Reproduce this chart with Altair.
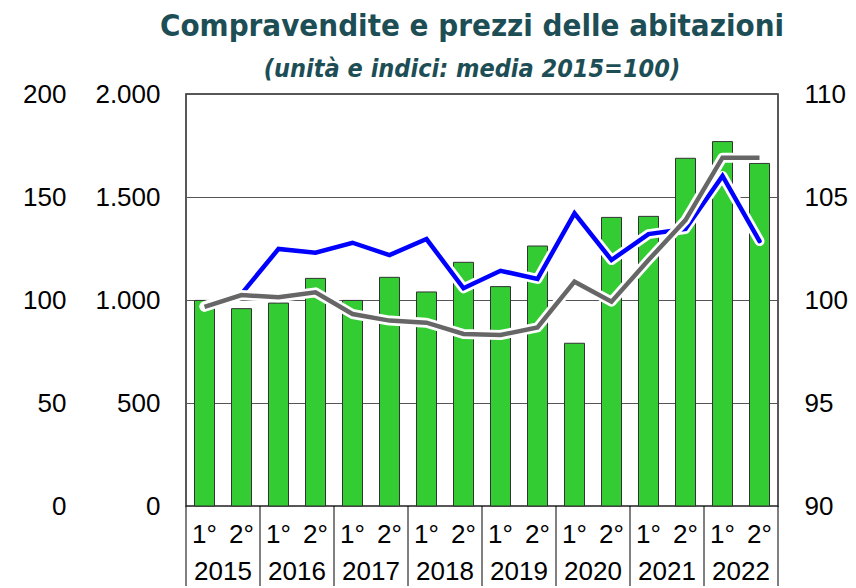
import altair as alt
import pandas as pd

periods = ["2015-1", "2015-2", "2016-1", "2016-2", "2017-1", "2017-2", "2018-1", "2018-2",
           "2019-1", "2019-2", "2020-1", "2020-2", "2021-1", "2021-2", "2022-1", "2022-2"]
years = ["2015", "2016", "2017", "2018", "2019", "2020", "2021", "2022"]
sales = [998, 958, 985, 1105, 998, 1110, 1039, 1183, 1065, 1262, 790, 1401, 1406, 1688, 1769, 1663]
blue_idx = [99.7, 100.3, 102.48, 102.3, 102.78, 102.18, 102.96, 100.57, 101.42, 101.02,
            104.21, 101.94, 103.2, 103.45, 106.02, 102.86]
gray_idx = [99.67, 100.24, 100.13, 100.37, 99.32, 99.0, 98.9, 98.35, 98.3, 98.67,
            100.89, 99.92, 101.94, 103.88, 106.91, 106.91]

df = pd.DataFrame({"period": periods, "sales": sales, "blue": blue_idx, "gray": gray_idx})
ydf = pd.DataFrame({"period": [y + "-1" for y in years], "year": years})
enddf = pd.DataFrame({"period": [periods[-1]]})

AXFONT = "Liberation Sans, Arial, sans-serif"
TFONT = "DejaVu Sans Condensed, sans-serif"
TCOL = "#1d4e55"

xscale = alt.Scale(domain=periods, paddingInner=0, paddingOuter=0)
xaxis = alt.Axis(title=None, labelExpr="substring(datum.label, 5) + '°'", labelAngle=0,
                 ticks=False, domain=False, labelFontSize=26, labelFont=AXFONT,
                 labelColor="black", labelPadding=15, grid=False, labelOverlap=False)


def xenc(bp=None):
    if bp is None:
        return alt.X("period:N", scale=xscale, axis=xaxis)
    return alt.X("period:N", scale=xscale, axis=xaxis, bandPosition=bp)


bars = alt.Chart(df).mark_bar(size=20, color="#33cc33", stroke="#333333", strokeWidth=1).encode(
    x=xenc(),
    y=alt.Y("sales:Q", scale=alt.Scale(domain=[0, 2000]),
            axis=alt.Axis(orient="left", values=[0, 500, 1000, 1500, 2000],
                          labelExpr="replace(format(datum.value, ','), ',', '.')",
                          grid=True, gridColor="#555555", gridWidth=1, ticks=False, domain=False,
                          labelFontSize=26, labelFont=AXFONT, labelColor="black",
                          labelPadding=26, title=None)),
)

outer = alt.Chart(df).transform_calculate(idx="datum.sales / 10").mark_tick(opacity=0).encode(
    x=xenc(),
    y=alt.Y("idx:Q", scale=alt.Scale(domain=[0, 200]),
            axis=alt.Axis(orient="left", offset=94, values=[0, 50, 100, 150, 200],
                          grid=False, ticks=False, domain=False, labelFontSize=26,
                          labelFont=AXFONT, labelColor="black", labelPadding=26, title=None)),
)

iscale = alt.Scale(domain=[90, 110])

white_blue = alt.Chart(df).mark_line(color="white", strokeWidth=10, strokeCap="round",
                                     strokeJoin="round").encode(
    x=xenc(), y=alt.Y("blue:Q", scale=iscale, axis=None))
blue = alt.Chart(df).mark_line(color="#0000ff", strokeWidth=4.5, strokeCap="round").encode(
    x=xenc(), y=alt.Y("blue:Q", scale=iscale, axis=None))
white_gray = alt.Chart(df).mark_line(color="white", strokeWidth=10, strokeCap="round",
                                     strokeJoin="round").encode(
    x=xenc(), y=alt.Y("gray:Q", scale=iscale, axis=None))
gray = alt.Chart(df).mark_line(color="#666666", strokeWidth=4.5).encode(
    x=xenc(),
    y=alt.Y("gray:Q", scale=iscale,
            axis=alt.Axis(orient="right", values=[90, 95, 100, 105, 110], grid=False,
                          ticks=False, domain=False, labelFontSize=26, labelFont=AXFONT,
                          labelColor="black", labelPadding=26, title=None)))

seps = alt.Chart(ydf).mark_rule(color="black", strokeWidth=1).encode(
    x=xenc(0), y=alt.value(412), y2=alt.value(520))
sep_end = alt.Chart(enddf).mark_rule(color="black", strokeWidth=1).encode(
    x=xenc(1), y=alt.value(412), y2=alt.value(520))

year_text = alt.Chart(ydf).mark_text(fontSize=26, font=AXFONT, color="black",
                                     baseline="alphabetic", align="center").encode(
    x=xenc(1), y=alt.value(486), text="year:N")

chart = alt.layer(
    bars, outer, white_blue, blue, white_gray, gray, seps, sep_end, year_text
).resolve_scale(y="independent").properties(
    width=592, height=412,
    padding={"left": 178, "top": 86, "right": 70, "bottom": 80},
    autosize=alt.AutoSizeParams(type="none"),
    title=alt.TitleParams(
        text="Compravendite e prezzi delle abitazioni",
        subtitle="(unità e indici: media 2015=100)",
        font=TFONT, fontSize=31, fontWeight="bold", color=TCOL,
        subtitleFont=TFONT, subtitleFontSize=25, subtitleFontStyle="italic",
        subtitleFontWeight="bold", subtitleColor=TCOL, subtitlePadding=14,
        anchor="middle", frame="group", offset=-2, dx=-10,
    ),
).configure_view(stroke="#222222", strokeWidth=1.5)

chart.save("out.html", embed_options={"renderer": "svg", "actions": False})
